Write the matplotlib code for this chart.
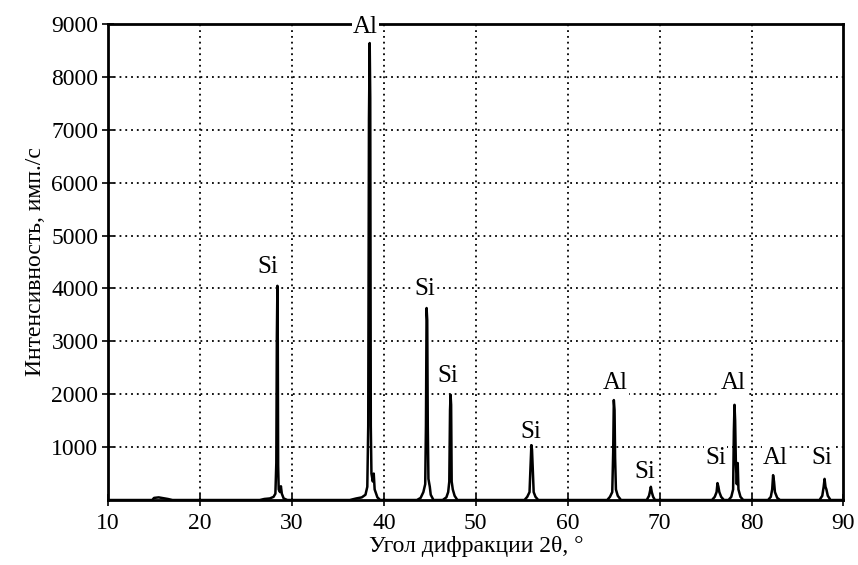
import matplotlib.pyplot as plt

plt.rcParams['font.family'] = ['Liberation Serif', 'DejaVu Serif']

# diffraction trace (2theta, counts)
angle = [10, 14.8, 15.0, 15.5, 16.0, 16.5, 17.0,
         26.5, 27.0, 27.6, 28.0, 28.2, 28.3, 28.36, 28.42, 28.46, 28.5, 28.56, 28.7, 28.8, 28.9, 29.1, 29.5,
         36.3, 37.0, 37.6, 38.0, 38.2, 38.3, 38.38, 38.46, 38.52, 38.58, 38.65, 38.8, 38.9, 39.0, 39.3, 39.6,
         43.6, 44.0, 44.3, 44.5, 44.58, 44.65, 44.72, 44.78, 44.85, 45.0, 45.1, 45.4,
         46.4, 46.8, 47.0, 47.12, 47.2, 47.26, 47.32, 47.38, 47.5, 47.7, 48.0,
         55.3, 55.6, 55.85, 55.95, 56.05, 56.12, 56.2, 56.3, 56.5, 56.8,
         64.3, 64.6, 64.85, 64.95, 65.02, 65.1, 65.16, 65.25, 65.45, 65.8,
         68.6, 68.85, 68.95, 69.05, 69.15, 69.3, 69.5,
         75.7, 76.0, 76.2, 76.3, 76.4, 76.5, 76.7, 77.0,
         77.5, 77.8, 78.0, 78.08, 78.15, 78.22, 78.3, 78.4, 78.5, 78.58, 78.8, 79.1,
         81.8, 82.1, 82.25, 82.35, 82.45, 82.55, 82.8, 83.1,
         87.4, 87.7, 87.85, 87.95, 88.05, 88.15, 88.3, 88.6, 90]
counts = [0, 0, 40, 50, 35, 20, 0,
          0, 20, 30, 60, 120, 700, 3100, 4050, 3000, 650, 200, 150, 260, 120, 30, 0,
          0, 30, 50, 100, 250, 1400, 7200, 8640, 7600, 1400, 500, 350, 500, 200, 50, 0,
          0, 40, 150, 300, 1400, 3630, 3400, 1400, 400, 250, 100, 0,
          0, 50, 150, 350, 1700, 1990, 1800, 350, 200, 80, 0,
          0, 60, 150, 600, 1040, 950, 600, 150, 60, 0,
          0, 60, 150, 900, 1890, 1700, 800, 200, 80, 0,
          0, 80, 160, 250, 150, 60, 0,
          0, 60, 150, 320, 250, 150, 60, 0,
          0, 60, 200, 1300, 1800, 1500, 700, 300, 700, 200, 60, 0,
          0, 60, 200, 470, 350, 150, 40, 0,
          0, 80, 250, 400, 250, 200, 80, 0, 0]

# phase labels
phase = ['Si', 'Al', 'Si', 'Si', 'Si', 'Al', 'Si', 'Si', 'Al', 'Al', 'Si']
label_x = [27.4, 38.0, 44.5, 47.0, 56.0, 65.2, 68.4, 76.1, 78.0, 82.6, 87.7]
label_y = [4400, 8940, 3990, 2340, 1290, 2210, 530, 790, 2210, 790, 790]

xticks = [10, 20, 30, 40, 50, 60, 70, 80, 90]
yticks = [1000, 2000, 3000, 4000, 5000, 6000, 7000, 8000, 9000]

fig = plt.figure(figsize=(8.58, 5.65), dpi=100)
ax = fig.add_axes([0.126, 0.115, 0.857, 0.8425])

ax.plot(angle, counts, color='black', lw=1.8, zorder=2)

ax.set_xlim(10, 90)
ax.set_ylim(0, 9000)
ax.set_xticks(xticks)
ax.set_yticks(yticks)
ax.tick_params(direction='inout', length=8, width=1.2, labelsize=17, colors='black')
ax.tick_params(axis='x', pad=5)
ax.tick_params(axis='y', pad=3)

# dotted grid
for gx in xticks[1:-1]:
    ax.axvline(gx, color='black', lw=1.3, ls=(0, (1, 2.2)), zorder=1)
for gy in yticks[:-1]:
    ax.axhline(gy, color='black', lw=1.3, ls=(0, (1, 2.2)), zorder=1)

for sp in ax.spines.values():
    sp.set_linewidth(2)

for t, x, y in zip(phase, label_x, label_y):
    ax.text(x, y, t, fontsize=18, ha='center', va='center', zorder=5,
            bbox=dict(facecolor='white', edgecolor='none', pad=0.5), clip_on=False)

ax.set_xlabel('Угол дифракции 2θ, °', fontsize=17, labelpad=2)
ax.set_ylabel('Интенсивность, имп./с', fontsize=17, labelpad=4)

plt.savefig('out.png', dpi=100)
